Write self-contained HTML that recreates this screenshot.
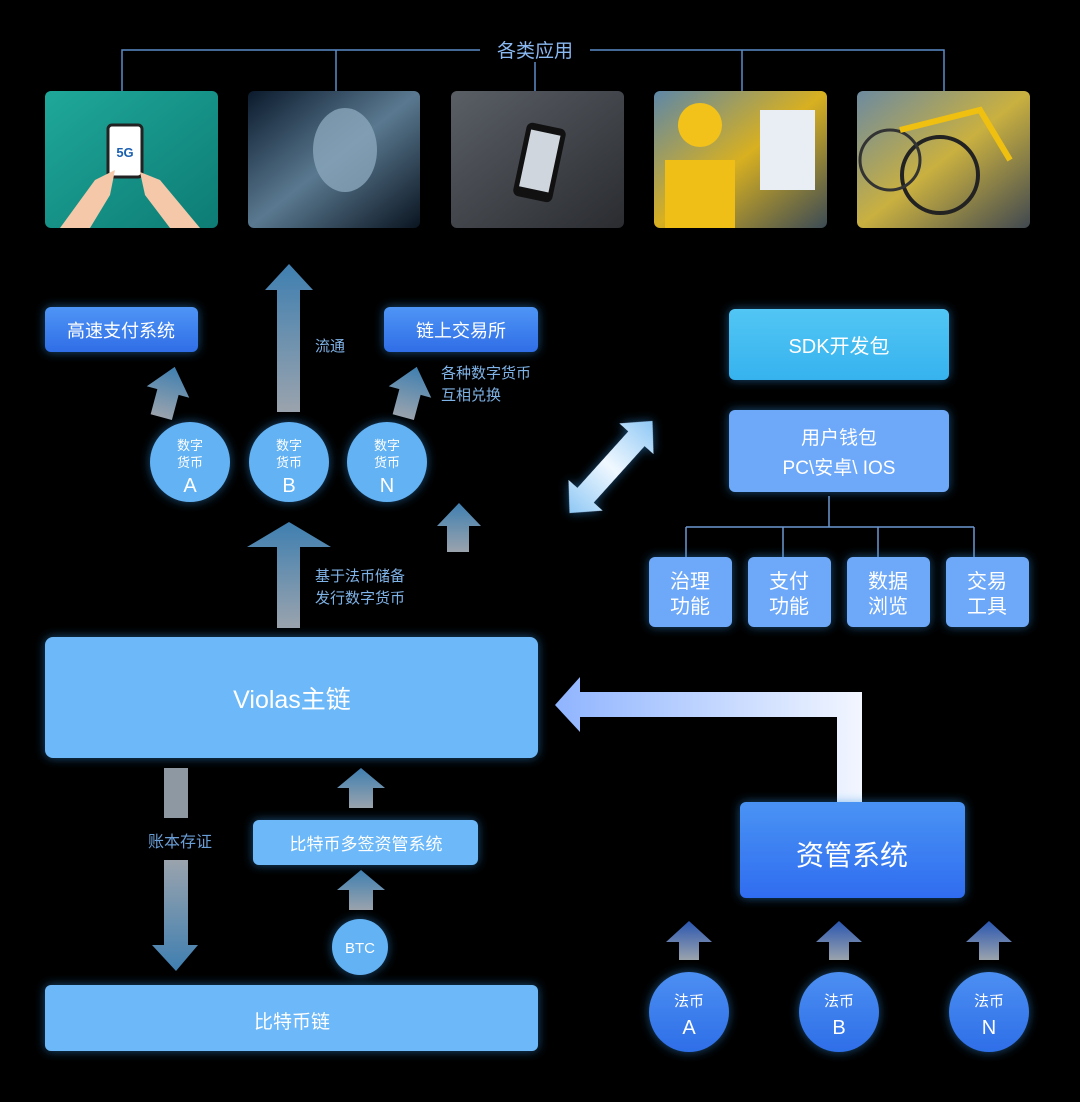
<!DOCTYPE html>
<html><head><meta charset="utf-8"><style>
html,body{margin:0;padding:0;background:#000;}
svg{display:block;}
text{font-family:"Liberation Sans","Noto Sans CJK SC",sans-serif;}
</style></head><body>
<svg width="1080" height="1102" viewBox="0 0 1080 1102" xmlns="http://www.w3.org/2000/svg">
<defs>
<linearGradient id="gUp" x1="0" y1="1" x2="0" y2="0"><stop offset="0" stop-color="#9aa3ad"/><stop offset="1" stop-color="#3f7fb0"/></linearGradient>
<linearGradient id="gDown" x1="0" y1="0" x2="0" y2="1"><stop offset="0" stop-color="#9aa3ad"/><stop offset="1" stop-color="#3f7fb0"/></linearGradient>
<linearGradient id="gBlueUp" x1="0" y1="1" x2="0" y2="0"><stop offset="0" stop-color="#9aa3ad"/><stop offset="1" stop-color="#2a56b0"/></linearGradient>
<linearGradient id="gBtn" x1="0" y1="0" x2="0" y2="1"><stop offset="0" stop-color="#4f95f6"/><stop offset="1" stop-color="#2f6de6"/></linearGradient>
<linearGradient id="gZG" x1="0" y1="0" x2="0" y2="1"><stop offset="0" stop-color="#4a93f4"/><stop offset="1" stop-color="#2f6cf0"/></linearGradient>
<linearGradient id="gFB" x1="0" y1="0" x2="0" y2="1"><stop offset="0" stop-color="#4c8ff2"/><stop offset="1" stop-color="#2e6ee8"/></linearGradient>
<linearGradient id="gL" x1="0" y1="0" x2="1" y2="0"><stop offset="0" stop-color="#8fb4ff"/><stop offset="1" stop-color="#f2f6ff"/></linearGradient>
<linearGradient id="gD" x1="0" y1="0" x2="1" y2="0"><stop offset="0" stop-color="#8fc8f5"/><stop offset="0.5" stop-color="#f0f8ff"/><stop offset="1" stop-color="#8fc8f5"/></linearGradient>
<linearGradient id="gSDK" x1="0" y1="0" x2="0" y2="1"><stop offset="0" stop-color="#52c6f4"/><stop offset="1" stop-color="#36b2ee"/></linearGradient>
<linearGradient id="i1" x1="0" y1="0" x2="1" y2="1"><stop offset="0" stop-color="#1fa89a"/><stop offset="1" stop-color="#0d7c74"/></linearGradient>
<linearGradient id="i2" x1="0" y1="0" x2="1" y2="1"><stop offset="0" stop-color="#0b1a2c"/><stop offset="0.5" stop-color="#5a7990"/><stop offset="1" stop-color="#0a1420"/></linearGradient>
<linearGradient id="i3" x1="0" y1="0" x2="1" y2="1"><stop offset="0" stop-color="#5a5f66"/><stop offset="1" stop-color="#2a2c30"/></linearGradient>
<linearGradient id="i4" x1="0" y1="0" x2="1" y2="1"><stop offset="0" stop-color="#5d87a8"/><stop offset="0.5" stop-color="#d8b020"/><stop offset="1" stop-color="#3b4a55"/></linearGradient>
<linearGradient id="i5" x1="0" y1="0" x2="1" y2="1"><stop offset="0" stop-color="#6c8aa0"/><stop offset="0.5" stop-color="#c9b040"/><stop offset="1" stop-color="#404850"/></linearGradient>
<filter id="glow" x="-20%" y="-30%" width="140%" height="160%"><feGaussianBlur stdDeviation="5" result="b"/><feFlood flood-color="#2e8fe0" flood-opacity="0.55"/><feComposite in2="b" operator="in"/><feMerge><feMergeNode/><feMergeNode in="SourceGraphic"/></feMerge></filter>
</defs>

<g stroke="#5a8cc8" stroke-width="1.5" fill="none">
<path d="M122 91 V50 H480 M590 50 H944 V91 M336 50 V91 M742 50 V91 M535 62 V91"/>
</g>
<text x="535" y="57" fill="#8ab8f0" font-size="19" text-anchor="middle">各类应用</text>

<rect x="45" y="91" width="173" height="137" rx="6" fill="url(#i1)"/>
<rect x="108" y="125" width="34" height="52" rx="4" fill="#fff" stroke="#222" stroke-width="3"/>
<text x="125" y="157" font-size="13" font-weight="bold" fill="#1a5fb0" text-anchor="middle">5G</text>
<path d="M60 228 L95 180 L115 170 L110 195 L90 228Z M200 228 L160 180 L140 172 L145 195 L170 228Z" fill="#f4c8a8"/>
<rect x="248" y="91" width="172" height="137" rx="6" fill="url(#i2)"/>
<ellipse cx="345" cy="150" rx="32" ry="42" fill="#8aa6bb" opacity="0.8"/>
<rect x="451" y="91" width="173" height="137" rx="6" fill="url(#i3)"/>
<rect x="520" y="125" width="40" height="75" rx="6" fill="#111" transform="rotate(12 540 160)"/>
<rect x="525" y="132" width="30" height="58" fill="#cfd6de" transform="rotate(12 540 160)"/>
<rect x="654" y="91" width="173" height="137" rx="6" fill="url(#i4)"/>
<rect x="760" y="110" width="55" height="80" fill="#e8eef3"/>
<circle cx="700" cy="125" r="22" fill="#f2c21a"/>
<rect x="665" y="160" width="70" height="68" fill="#efbf18"/>
<rect x="857" y="91" width="173" height="137" rx="6" fill="url(#i5)"/>
<circle cx="940" cy="175" r="38" fill="none" stroke="#222" stroke-width="4"/>
<circle cx="890" cy="160" r="30" fill="none" stroke="#333" stroke-width="3"/>
<path d="M900 130 L980 110 L1010 160" stroke="#f0c010" stroke-width="6" fill="none"/>

<rect x="45" y="307" width="153" height="45" rx="6" fill="url(#gBtn)" filter="url(#glow)"/>
<text x="121" y="337" font-size="18" fill="#fff" text-anchor="middle">高速支付系统</text>
<rect x="384" y="307" width="154" height="45" rx="6" fill="url(#gBtn)" filter="url(#glow)"/>
<text x="461" y="337" font-size="18" fill="#fff" text-anchor="middle">链上交易所</text>

<path d="M277 412 V290 H265 L289 264 L313 290 H300 V412Z" fill="url(#gUp)"/>
<text x="315" y="351" font-size="15" fill="#7fb2e6">流通</text>

<path d="M-11 26 V0 H-22 L0 -26 L22 0 H11 V26Z" fill="url(#gUp)" transform="translate(168,392) rotate(15)"/>
<path d="M-11 26 V0 H-22 L0 -26 L22 0 H11 V26Z" fill="url(#gUp)" transform="translate(410,392) rotate(15)"/>
<text x="441" y="378" font-size="15" fill="#7fb2e6">各种数字货币</text>
<text x="441" y="400" font-size="15" fill="#7fb2e6">互相兑换</text>

<g filter="url(#glow)" fill="#62b2f4">
<circle cx="190" cy="462" r="40"/><circle cx="289" cy="462" r="40"/><circle cx="387" cy="462" r="40"/>
</g>
<g fill="#fff" text-anchor="middle">
<text x="190" y="450" font-size="13">数字</text><text x="190" y="467" font-size="13">货币</text><text x="190" y="492" font-size="20">A</text>
<text x="289" y="450" font-size="13">数字</text><text x="289" y="467" font-size="13">货币</text><text x="289" y="492" font-size="20">B</text>
<text x="387" y="450" font-size="13">数字</text><text x="387" y="467" font-size="13">货币</text><text x="387" y="492" font-size="20">N</text>
</g>

<path d="M447 552 V526 H437 L459 503 L481 526 H469 V552Z" fill="url(#gUp)"/>
<path d="M277 628 V547 H247 L289 522 L331 547 H300 V628Z" fill="url(#gUp)"/>
<text x="315" y="581" font-size="15" fill="#7fb2e6">基于法币储备</text>
<text x="315" y="603" font-size="15" fill="#7fb2e6">发行数字货币</text>

<rect x="45" y="637" width="493" height="121" rx="8" fill="#6cb8f8" filter="url(#glow)"/>
<text x="292" y="708" font-size="25" fill="#fff" text-anchor="middle">Violas主链</text>

<rect x="164" y="768" width="24" height="50" fill="#8e98a2"/>
<text x="180" y="847" font-size="16" fill="#6a9ed6" text-anchor="middle">账本存证</text>
<path d="M164 860 H188 V945 H198 L176 971 L152 945 H164Z" fill="url(#gDown)"/>

<path d="M349 808 V788 H337 L361 768 L385 788 H373 V808Z" fill="url(#gUp)"/>
<rect x="253" y="820" width="225" height="45" rx="6" fill="#6cb8f8" filter="url(#glow)"/>
<text x="366" y="850" font-size="17" fill="#fff" text-anchor="middle">比特币多签资管系统</text>
<path d="M349 910 V890 H337 L361 870 L385 890 H373 V910Z" fill="url(#gUp)"/>
<circle cx="360" cy="947" r="28" fill="#62b2f4" filter="url(#glow)"/>
<text x="360" y="953" font-size="15" fill="#fff" text-anchor="middle">BTC</text>

<rect x="45" y="985" width="493" height="66" rx="6" fill="#6cb8f8" filter="url(#glow)"/>
<text x="292" y="1028" font-size="19" fill="#fff" text-anchor="middle">比特币链</text>

<rect x="729" y="309" width="220" height="71" rx="6" fill="url(#gSDK)" filter="url(#glow)"/>
<text x="839" y="353" font-size="20" fill="#fff" text-anchor="middle">SDK开发包</text>
<rect x="729" y="410" width="220" height="82" rx="6" fill="#6ea8f8" filter="url(#glow)"/>
<text x="839" y="444" font-size="19" fill="#fff" text-anchor="middle">用户钱包</text>
<text x="839" y="474" font-size="19" fill="#fff" text-anchor="middle">PC\安卓\ IOS</text>
<g stroke="#6a98d0" stroke-width="1.5" fill="none">
<path d="M829 496 V527 M686 527 H974 M686 527 V557 M783 527 V557 M878 527 V557 M974 527 V557"/>
</g>
<g fill="#6ea8f8" filter="url(#glow)">
<rect x="649" y="557" width="83" height="70" rx="6"/><rect x="748" y="557" width="83" height="70" rx="6"/>
<rect x="847" y="557" width="83" height="70" rx="6"/><rect x="946" y="557" width="83" height="70" rx="6"/>
</g>
<g fill="#fff" font-size="20" text-anchor="middle">
<text x="690" y="588">治理</text><text x="690" y="613">功能</text>
<text x="789" y="588">支付</text><text x="789" y="613">功能</text>
<text x="888" y="588">数据</text><text x="888" y="613">浏览</text>
<text x="987" y="588">交易</text><text x="987" y="613">工具</text>
</g>

<path d="M-62 0 L-38 -23 L-38 -11 H38 V-23 L62 0 L38 23 V11 H-38 V23Z" fill="url(#gD)" filter="url(#glow)" transform="translate(611,467) rotate(-48)"/>

<path d="M862 802 V692 H580 V677 L555 705 L580 732 V717 H837 V802Z" fill="url(#gL)"/>
<rect x="740" y="802" width="225" height="96" rx="6" fill="url(#gZG)" filter="url(#glow)"/>
<text x="852" y="865" font-size="28" fill="#fff" text-anchor="middle">资管系统</text>

<g fill="url(#gBlueUp)">
<path d="M679 960 V942 H666 L689 921 L712 942 H699 V960Z"/>
<path d="M829 960 V942 H816 L839 921 L862 942 H849 V960Z"/>
<path d="M979 960 V942 H966 L989 921 L1012 942 H999 V960Z"/>
</g>
<g fill="url(#gFB)" filter="url(#glow)">
<circle cx="689" cy="1012" r="40"/><circle cx="839" cy="1012" r="40"/><circle cx="989" cy="1012" r="40"/>
</g>
<g fill="#fff" text-anchor="middle">
<text x="689" y="1006" font-size="15">法币</text><text x="689" y="1034" font-size="20">A</text>
<text x="839" y="1006" font-size="15">法币</text><text x="839" y="1034" font-size="20">B</text>
<text x="989" y="1006" font-size="15">法币</text><text x="989" y="1034" font-size="20">N</text>
</g>
</svg>
</body></html>
